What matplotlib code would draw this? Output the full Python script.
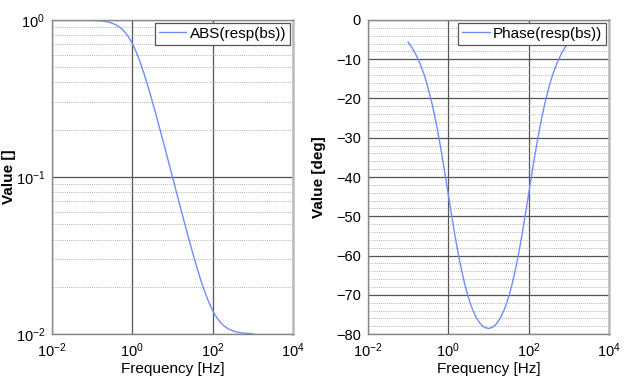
import matplotlib
matplotlib.use("Agg")
import matplotlib.pyplot as plt
from matplotlib.ticker import LogLocator, MultipleLocator, NullLocator, NullFormatter

plt.rcParams['font.family'] = ['Liberation Sans', 'DejaVu Sans']

# frequency points (Hz)
freq = [0.1, 0.125, 0.15, 0.2, 0.25, 0.3, 0.4, 0.5, 0.6, 0.7, 0.85, 1,
        1.25, 1.5, 1.75, 2, 2.5, 3, 3.5, 4, 5, 6, 7, 8, 10,
        12.5, 14.29, 16.67, 20, 25, 28.57, 33.33, 40, 50, 57.14, 66.67, 80, 100,
        117.6, 142.9, 166.7, 200, 250, 333.3, 400, 500, 666.7, 800, 1000]

# magnitude |resp(bs)|
mag = [0.995, 0.9923, 0.989, 0.981, 0.9701, 0.958, 0.928, 0.894, 0.8575, 0.819,
       0.7619, 0.7071, 0.6248, 0.5548, 0.4962, 0.4473, 0.3715, 0.3164, 0.2749,
       0.2427, 0.1964, 0.1647, 0.1418, 0.1244, 0.1,
       0.0804, 0.0705, 0.0607, 0.0509, 0.0412, 0.0364, 0.0316, 0.0269, 0.02236,
       0.02015, 0.01802, 0.01601, 0.01414, 0.01312, 0.01221, 0.01166, 0.01118,
       0.01078, 0.01044, 0.01031, 0.01019, 0.01011, 0.01008, 0.01005]

# phase in degrees
phase = [-5.65, -7.05, -8.45, -11.20, -13.89, -16.53, -21.57, -26.28, -30.62,
         -34.59, -39.87, -44.43, -50.62, -55.45, -59.25, -62.29, -66.77, -69.85,
         -72.05, -73.67, -75.83, -77.10, -77.87, -78.30, -78.58,
         -78.30, -77.87, -77.10, -75.83, -73.67, -72.05, -69.85, -66.77, -62.29,
         -59.25, -55.45, -50.62, -44.43, -39.87, -34.59, -30.62, -26.28, -21.57,
         -16.53, -13.89, -11.20, -8.45, -7.05, -5.65]

line_col = '#6e8dff'
grid_col = '#555555'

fig = plt.figure(figsize=(6.29, 3.84), dpi=100)
ax1 = fig.add_axes([0.0827, 0.130, 0.383, 0.818])
ax2 = fig.add_axes([0.585, 0.130, 0.383, 0.818])


def style(ax):
    ax.set_xscale('log')
    ax.set_xlim(1e-2, 1e4)
    ax.xaxis.set_major_locator(LogLocator(base=100))
    ax.xaxis.set_minor_locator(NullLocator())
    ax.grid(True, which='major', color=grid_col, lw=0.9, ls='-')
    ax.grid(True, which='minor', axis='y', color='#999999', lw=0.6, ls=(0, (1, 1.5)))
    ax.tick_params(which='both', direction='in', labelsize=10.5, length=0, pad=5)
    for s in ax.spines.values():
        s.set_color('#888888')
        s.set_linewidth(1.0)
    ax.spines['right'].set_color('#bbbbbb')
    ax.spines['right'].set_linewidth(1.8)
    ax.set_xlabel('Frequency [Hz]', fontsize=11, labelpad=2)


ax1.plot(freq, mag, color=line_col, lw=1.0, label='ABS(resp(bs))')
ax1.set_yscale('log')
ax1.set_ylim(1e-2, 1)
ax1.yaxis.set_minor_locator(LogLocator(base=10, subs=range(2, 10)))
ax1.yaxis.set_minor_formatter(NullFormatter())
style(ax1)
ax1.set_ylabel('Value []', fontsize=11, fontweight='bold')
ax1.yaxis.set_label_coords(-0.15, 0.5)

ax2.plot(freq, phase, color=line_col, lw=1.0, label='Phase(resp(bs))')
ax2.set_ylim(-80, 0)
ax2.yaxis.set_major_locator(MultipleLocator(10))
ax2.yaxis.set_minor_locator(MultipleLocator(2))
style(ax2)
ax2.set_ylabel('Value [deg]', fontsize=11, fontweight='bold')
ax2.yaxis.set_label_coords(-0.175, 0.5)

for ax in (ax1, ax2):
    leg = ax.legend(loc='upper right', fontsize=11, fancybox=False, framealpha=1,
                    edgecolor='#555555', borderpad=0.25, handlelength=1.8,
                    handletextpad=0.2, borderaxespad=0.2)
    leg.get_frame().set_linewidth(0.9)

fig.savefig('out.png', dpi=100)
